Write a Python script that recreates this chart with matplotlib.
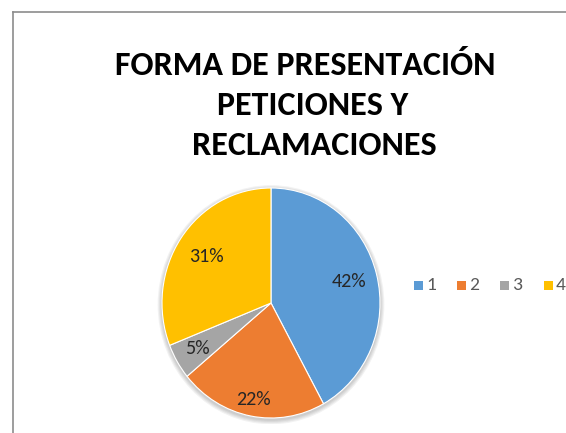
import matplotlib
matplotlib.use("Agg")
import numpy as np
import matplotlib.pyplot as plt
from matplotlib.patches import Rectangle, Ellipse
from matplotlib import font_manager

categories = ["1", "2", "3", "4"]
values = [42, 22, 5, 31]
colors = ["#5B9BD5", "#ED7D31", "#A5A5A5", "#FFC000"]
title_lines = ["FORMA DE PRESENTACIÓN", "PETICIONES Y", "RECLAMACIONES"]

names = {f.name for f in font_manager.fontManager.ttflist}
font = "Carlito" if "Carlito" in names else "DejaVu Sans"

W, H = 566, 433
fig = plt.figure(figsize=(W / 100, H / 100), dpi=100)
fig.patch.set_facecolor("white")

# chart border (top and left visible)
fig.add_artist(plt.Line2D([13 / W, 1], [1 - 12 / H, 1 - 12 / H], color="#8c8c8c", lw=1.2))
fig.add_artist(plt.Line2D([13 / W, 13 / W], [1 - 12 / H, 0], color="#8c8c8c", lw=1.2))

# title (baselines)
baselines = [75, 115, 155]
centers = [305, 313, 314]
for line, y, x in zip(title_lines, baselines, centers):
    fig.text(x / W, 1 - y / H, line, ha="center", va="baseline",
             fontsize=24.5, fontweight="bold", family=font, color="black")

# pie (slightly taller than wide, as in the reference)
cx, cy, rx, ry = 271, 303, 109, 115
ax = fig.add_axes([(cx - rx * 1.05) / W, 1 - (cy + ry * 1.05) / H,
                   2 * rx * 1.05 / W, 2 * ry * 1.05 / H])
# soft shadow
for i in range(4):
    ax.add_patch(Ellipse((0, -0.015), 2 + 0.02 * (4 - i), 2 + 0.02 * (4 - i),
                         facecolor="black", alpha=0.05, edgecolor="none", zorder=0))
wedges, texts, autotexts = ax.pie(
    values, colors=colors, startangle=90, counterclock=False,
    autopct=lambda p: f"{p:.0f}%", pctdistance=0.77,
    wedgeprops=dict(linewidth=0.8, edgecolor="white", zorder=2),
    textprops=dict(fontsize=14.5, color="#262626", family=font),
)
# per-label radial placement (as Excel's best-fit placement)
label_dist = [0.74, 0.85, 0.78, 0.72]
for w, t, d in zip(wedges, autotexts, label_dist):
    ang = np.deg2rad((w.theta1 + w.theta2) / 2)
    t.set_position((d * np.cos(ang), d * np.sin(ang)))
ax.set_aspect("auto")
ax.set_xlim(-1.05, 1.05)
ax.set_ylim(-1.05, 1.05)
ax.axis("off")

# legend
lx = [418, 461, 504, 548]
ly = 285
for cat, col, x in zip(categories, colors, lx):
    fig.add_artist(Rectangle(((x - 4.5) / W, 1 - (ly + 4.5) / H), 9 / W, 9 / H,
                             transform=fig.transFigure, facecolor=col, edgecolor="none"))
    fig.text((x + 8) / W, 1 - ly / H, cat, ha="left", va="center",
             fontsize=14, color="#595959", family=font)

fig.savefig("out.png", dpi=100)
